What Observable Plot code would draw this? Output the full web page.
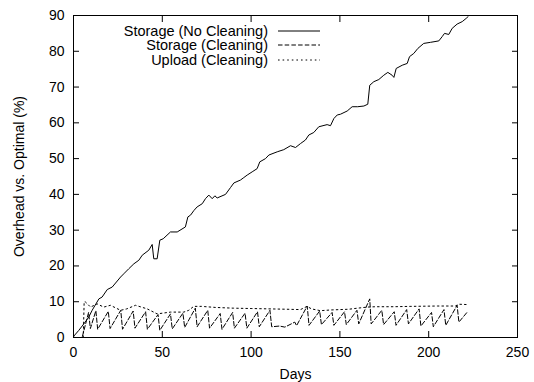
<!DOCTYPE html>
<html>
<head>
<meta charset="utf-8">
<script src="https://cdn.jsdelivr.net/npm/d3@7"></script>
<script src="https://cdn.jsdelivr.net/npm/@observablehq/plot@0.6"></script>
<style>
  html, body { margin: 0; padding: 0; background: #fff; }
  #wrap { position: relative; width: 534px; height: 382px; font-family: "Liberation Sans", Arial, Helvetica, sans-serif; }
  #legend { position: absolute; left: 0; top: 0; width: 534px; pointer-events: none; }
  .row { position: absolute; left: 0; height: 16px; display: flex; align-items: center; }
  .row span { display: inline-block; width: 268px; text-align: right; font-size: 14.5px; color: #000; }
  .row svg { margin-left: 10px; }
</style>
</head>
<body>
<div id="wrap"><div id="legend"></div></div>
<script>
// Series names
const seriesNames = ["Storage (No Cleaning)", "Storage (Cleaning)", "Upload (Cleaning)"];
const seriesDash = ["none", "4.5,2.2", "1.6,3"];

// Storage (No Cleaning): day, overhead %
const noCleanDays = [0,0.2,3,5.8,8.6,10.5,14.3,16.1,19,21.8,26.5,28.3,31.1,34,36.8,38.7,42.4,44.3,45.2,47.1,48.6,50.5,54.6,58.4,63,64.4,65.9,67.8,69.6,72.5,74.3,76.2,78.1,79.6,80.9,85.6,88.4,90.3,94,95.9,97.8,100.6,103.4,104.9,108.1,110,114.7,118.4,122.2,125,127.8,130.6,132.5,135.3,138.1,142.8,144.7,146.6,148.5,150.3,154.1,156.9,160,163.5,165.7,166.8,169.1,171.9,174.7,177,179.4,180.4,181.7,185.1,187.9,189.2,191.6,193.9,197.2,201,205.7,207.6,208.9,211.3,213.2,216,218.9,221.1,222.2];
const noCleanVals = [0,0.4,2,3.8,5.7,7.6,10.8,11.3,13.4,14.1,16.9,17.8,19.2,20.6,21.6,23,24.4,26,22,22,27.2,27.6,29.5,29.5,30.9,33.7,34.2,35.5,36.5,37.4,38.8,39.8,38.8,39.6,39,40,41.9,43.2,44,44.7,45.4,46.3,47.2,49.1,50,51,51.9,52.5,53.6,53.1,54.2,55.2,56.6,57.3,58.9,59.5,59.2,61.2,62.2,62.4,63.3,64.5,64.5,64.7,65.2,70.5,71.5,72.1,73.3,74.1,73.3,72.7,75.2,76.1,76.6,78.5,79.4,80.8,82.2,82.5,82.9,84.1,85,84.7,86.4,87.6,88.3,89.2,89.7];

// Storage (Cleaning)
const cleanDays = [5,8.5,9.5,12.6,13.6,19.6,20.6,26.6,27.6,33.6,34.6,40.6,41.6,47.6,48.6,54.6,55.6,61.6,62.6,68.6,69.6,75.6,76.6,82.6,83.6,89.6,90.6,96.6,97.6,103.6,104.6,110.6,111.6,116,119,124.6,125.6,131.6,132.6,138.6,139.6,145.6,146.6,152.6,153.6,159.6,160.6,166.8,167.6,173.6,174.6,180.6,181.6,187.6,188.6,194.6,195.6,201.6,202.6,208.6,209.6,216,217,221.7];
const cleanVals = [0.3,7,2.5,7.5,2.3,7.3,2.5,7.6,2.3,7.4,2.6,7.2,2.3,6.4,2,6.6,2.4,6.8,2.8,8.2,3,7.6,2.6,6.7,2.3,7,2.6,6.8,2.6,7.2,3,7.6,3,3.2,2.9,4.3,3.3,8.8,3.4,7.4,3.6,7,3.4,7.2,3.6,7.6,3.8,10.8,3.8,7.6,3.6,7.2,3.4,7.8,3.8,8,3.2,7,3,7.8,3.4,9,4.3,7.1];

// Upload (Cleaning)
const uploadDays = [5.5,6,6.8,9.6,13.3,17,20.8,26.5,30,34.9,41.5,47.1,54.6,62.1,64.9,67.7,72,80,90,100,110,120,127.8,131.5,134,139,145,155,160,165.4,170,180,190,205,215,217,222];
const uploadVals = [0,10,9.9,8.5,9.4,8.5,9,7.6,8,9,8,6.6,7.1,7.1,7.6,8.7,8.7,8.4,8.2,8.1,8,7.9,7.8,8.7,8,7.5,7.7,7.9,8.2,8.5,8.6,8.6,8.7,8.8,8.8,9.3,9.2];

const xTicks = [0, 50, 100, 150, 200, 250];
const yTicks = [0, 10, 20, 30, 40, 50, 60, 70, 80, 90];

const toRows = (days, vals) => days.map((d, i) => ({day: d, val: vals[i]}));
const noClean = toRows(noCleanDays, noCleanVals);
const clean = toRows(cleanDays, cleanVals);
const upload = toRows(uploadDays, uploadVals);

const chart = Plot.plot({
  width: 534,
  height: 382,
  marginLeft: 73,
  marginRight: 17,
  marginTop: 15,
  marginBottom: 45,
  x: {domain: [0, 250]},
  y: {domain: [0, 90]},
  style: {fontFamily: '"Liberation Sans", Arial, Helvetica, sans-serif', fontSize: "14px", color: "#000", background: "#fff", overflow: "visible"},
  marks: [
    Plot.axisX({ticks: xTicks, anchor: "bottom", tickSize: 0, tickPadding: 10, label: "Days", labelAnchor: "center", labelOffset: 41, labelArrow: "none"}),
    Plot.axisX({ticks: xTicks, anchor: "bottom", tickSize: 6, dy: -6, fill: "none", label: null}),
    Plot.axisX({ticks: xTicks, anchor: "top", tickSize: 6, dy: 6, fill: "none", label: null}),
    Plot.axisY({ticks: yTicks, anchor: "left", tickSize: 0, tickPadding: 9, label: "Overhead vs. Optimal (%)", labelAnchor: "center", labelOffset: 59, labelArrow: "none"}),
    Plot.axisY({ticks: yTicks, anchor: "left", tickSize: 6, dx: 6, fill: "none", label: null}),
    Plot.axisY({ticks: yTicks, anchor: "right", tickSize: 6, dx: -6, fill: "none", label: null}),
    Plot.line(upload, {x: "day", y: "val", stroke: "#000", strokeWidth: 1, strokeDasharray: seriesDash[2]}),
    Plot.line(clean, {x: "day", y: "val", stroke: "#000", strokeWidth: 1, strokeDasharray: seriesDash[1]}),
    Plot.line(noClean, {x: "day", y: "val", stroke: "#000", strokeWidth: 1}),
    Plot.frame({stroke: "#000", strokeWidth: 1})
  ]
});

const wrap = document.getElementById("wrap");
wrap.insertBefore(chart, wrap.firstChild);

const legend = document.getElementById("legend");
const rowTops = [22.5, 37, 52];
seriesNames.forEach((name, i) => {
  const row = document.createElement("div");
  row.className = "row";
  row.style.top = rowTops[i] + "px";
  const span = document.createElement("span");
  span.textContent = name;
  row.appendChild(span);
  const ns = "http://www.w3.org/2000/svg";
  const svg = document.createElementNS(ns, "svg");
  svg.setAttribute("width", "44");
  svg.setAttribute("height", "16");
  const ln = document.createElementNS(ns, "line");
  ln.setAttribute("x1", "0"); ln.setAttribute("x2", "42");
  ln.setAttribute("y1", "8"); ln.setAttribute("y2", "8");
  ln.setAttribute("stroke", "#000");
  ln.setAttribute("stroke-width", "1");
  if (seriesDash[i] !== "none") ln.setAttribute("stroke-dasharray", seriesDash[i]);
  svg.appendChild(ln);
  row.appendChild(svg);
  legend.appendChild(row);
});
</script>
</body>
</html>
